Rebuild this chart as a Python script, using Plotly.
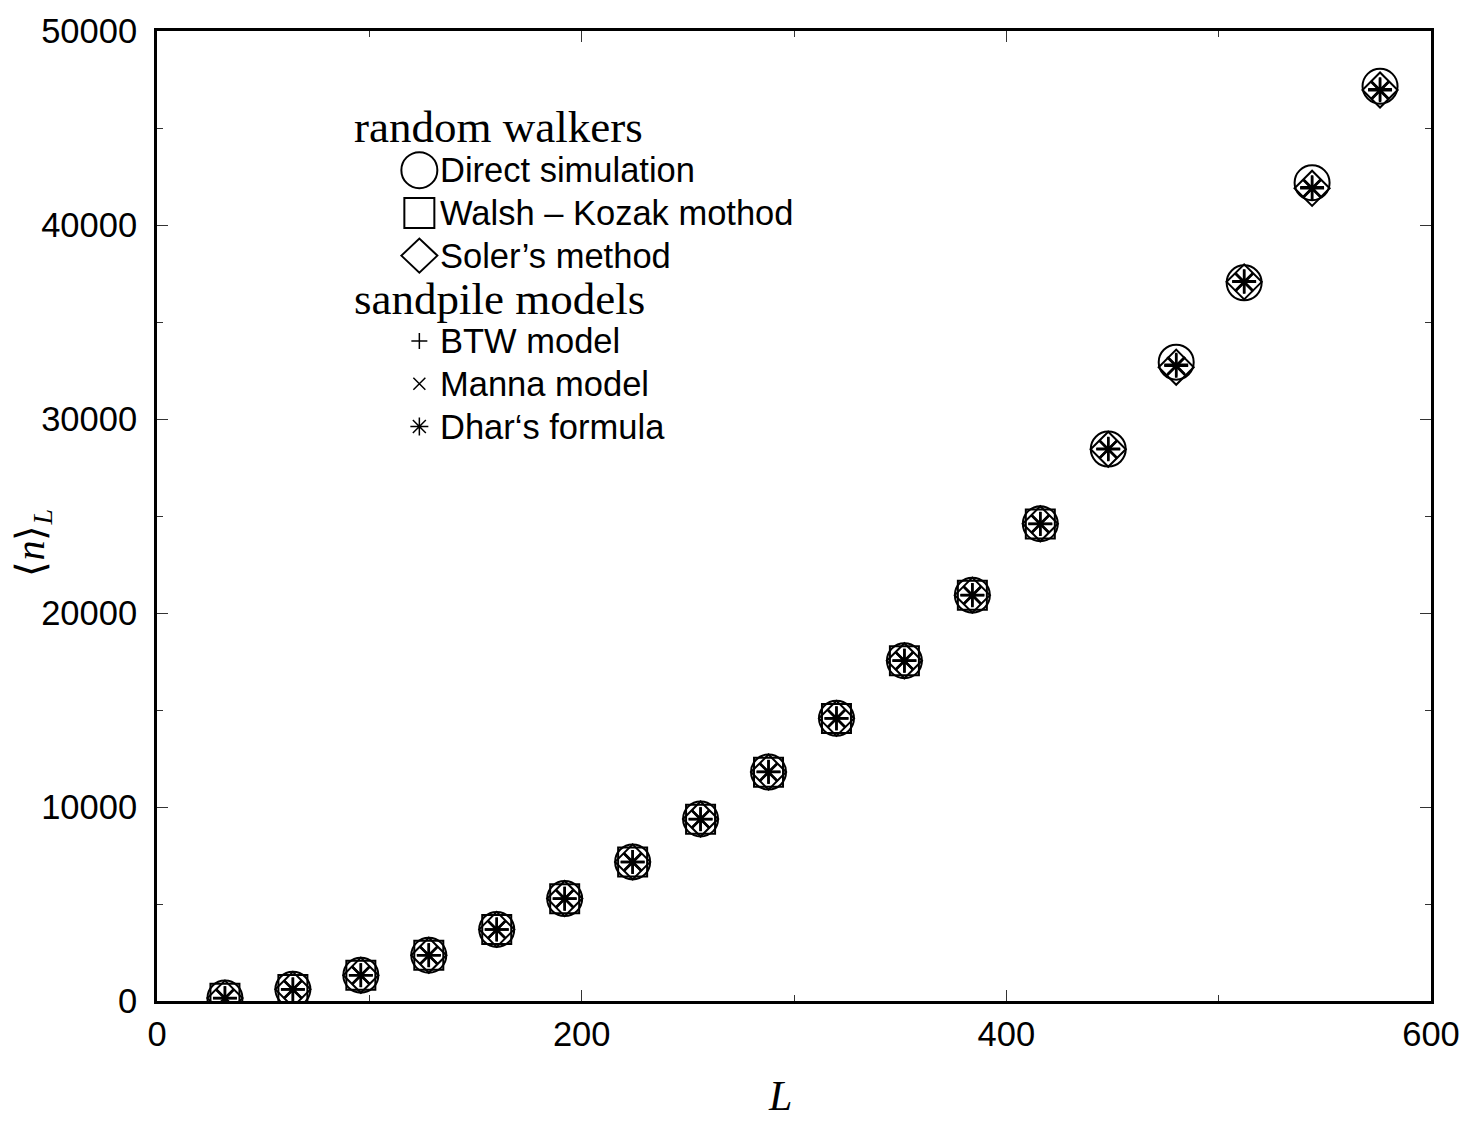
import plotly.graph_objects as go

# ---- data ----
L = [32, 64, 96, 128, 160, 192, 224, 256, 288, 320, 352, 384, 416, 448, 480, 512, 544, 576]
L_walsh = [32, 64, 96, 128, 160, 192, 224, 256, 288, 320, 352, 384, 416]

direct = [150, 600, 1330, 2360, 3690, 5280, 7170, 9380, 11800, 14570, 17540, 20920, 24600, 28450, 32930, 37020, 42180, 47150]
walsh = [145, 595, 1325, 2355, 3685, 5275, 7165, 9375, 11795, 14565, 17535, 20915, 24590]
soler = [150, 600, 1330, 2360, 3690, 5280, 7170, 9380, 11800, 14570, 17540, 20920, 24600, 28440, 32670, 37070, 41890, 46960]
btw = [150, 600, 1330, 2360, 3690, 5280, 7170, 9380, 11820, 14580, 17550, 20930, 24600, 28470, 32800, 37100, 41950, 47000]
manna = [140, 590, 1320, 2350, 3680, 5270, 7160, 9370, 11790, 14560, 17530, 20910, 24580, 28430, 32720, 37040, 41870, 46930]
dhar = [145, 595, 1325, 2355, 3685, 5275, 7165, 9375, 11800, 14565, 17535, 20915, 24590, 28440, 32750, 37070, 41900, 46950]

x_ticks = [0, 200, 400, 600]
y_ticks = [0, 10000, 20000, 30000, 40000, 50000]

SANS = "Liberation Sans, Arial, sans-serif"
SERIF = "Liberation Serif, Times New Roman, serif"

fig = go.Figure()


def add(xs, ys, symbol, size, name, width=2):
    fig.add_trace(go.Scatter(
        x=xs, y=ys, mode="markers", name=name, showlegend=False,
        marker=dict(symbol=symbol, size=size, color="black",
                    line=dict(color="black", width=width)),
    ))


add(L, direct, "circle-open", 35, "Direct simulation")
add(L_walsh, walsh, "square-open", 29, "Walsh - Kozak mothod")
add(L, soler, "diamond-open", 27, "Soler's method")
add(L, btw, "cross-thin-open", 17, "BTW model", 2.5)
add(L, manna, "x-thin-open", 18, "Manna model", 2.5)
add(L, dhar, "asterisk-open", 20, "Dhar's formula", 2.5)

# ---- custom legend (icons as pixel-sized shapes, text as annotations) ----
# target plot-area position in the picture (pixels)
PLOT_L, PLOT_R, PLOT_T, PLOT_B = 155, 1437, 25, 1001


def px(xp):
    return (xp - PLOT_L) / (PLOT_R - PLOT_L)


def py(yp):
    return (PLOT_B - yp) / (PLOT_B - PLOT_T)


icon_x = px(419)
rows = [122, 165, 208, 251, 295, 337, 380, 423]
shapes = []
line_style = dict(color="black", width=2)


def pshape(**kw):
    d = dict(xref="paper", yref="paper", xsizemode="pixel", ysizemode="pixel",
             xanchor=icon_x, line=line_style)
    d.update(kw)
    shapes.append(d)


# circle
pshape(type="circle", yanchor=py(rows[1]), x0=-18, x1=18, y0=-18, y1=18)
# square
pshape(type="rect", yanchor=py(rows[2]), x0=-15, x1=15, y0=-15, y1=15)
# diamond
pshape(type="path", yanchor=py(rows[3]), path="M -18,0 L 0,17 L 18,0 L 0,-17 Z")
# plus
pshape(type="path", yanchor=py(rows[5]), path="M -8,0 L 8,0 M 0,-8 L 0,8",
       line=dict(color="black", width=1.5))
# cross
pshape(type="path", yanchor=py(rows[6]), path="M -6,-6 L 6,6 M -6,6 L 6,-6",
       line=dict(color="black", width=1.5))
# asterisk
pshape(type="path", yanchor=py(rows[7]),
       path="M -9,0 L 9,0 M 0,-9 L 0,9 M -6.5,-6.5 L 6.5,6.5 M -6.5,6.5 L 6.5,-6.5",
       line=dict(color="black", width=1.5))

annotations = []


def ann(text, xp, yp, font, xanchor="left", **kw):
    d = dict(text=text, xref="paper", yref="paper", x=px(xp), y=py(yp),
             xanchor=xanchor, yanchor="middle", showarrow=False, font=font)
    d.update(kw)
    annotations.append(d)


serif_font = dict(family=SERIF, size=45, color="black")
sans_font = dict(family=SANS, size=34.5, color="black")

ann("random walkers", 351, rows[0], serif_font)
ann("Direct simulation", 438, rows[1], sans_font)
ann("Walsh \u2013 Kozak mothod", 438, rows[2], sans_font)
ann("Soler\u2019s method", 438, rows[3], sans_font)
ann("sandpile models", 351, rows[4], serif_font)
ann("BTW model", 438, rows[5], sans_font)
ann("Manna model", 438, rows[6], sans_font)
ann("Dhar\u2018s formula", 438, rows[7], sans_font)

# axis titles
ann("<i>L</i>", 782, 1097, dict(family=SERIF, size=42, color="black"), xanchor="center")
ann("\u27e8<i>n</i>\u27e9<sub><i>L</i></sub>", 30, 540,
    dict(family=SERIF, size=40, color="black"), xanchor="center", textangle=-90)

axis_common = dict(
    showline=True, linecolor="black", linewidth=3, mirror="allticks",
    ticks="inside", ticklen=11, tickwidth=1, tickcolor="#333",
    showgrid=False, zeroline=False,
    tickfont=dict(family=SANS, size=34.5, color="black"),
)

fig.update_layout(
    width=1472, height=1122,
    margin=dict(l=157, r=30, t=21, b=121),
    paper_bgcolor="white", plot_bgcolor="white",
    showlegend=False,
    shapes=shapes, annotations=annotations,
    xaxis=dict(range=[0, 600], tickvals=x_ticks, ticktext=[str(v) for v in x_ticks],
               minor=dict(dtick=100, ticks="inside", ticklen=6, tickwidth=1, tickcolor="#333"),
               ticklabelstandoff=1, **axis_common),
    yaxis=dict(range=[0, 50000], tickvals=y_ticks, ticktext=[str(v) for v in y_ticks],
               minor=dict(dtick=5000, ticks="inside", ticklen=6, tickwidth=1, tickcolor="#333"),
               ticklabelstandoff=10, **axis_common),
)

fig.write_html(
    "out.html",
    config={"displayModeBar": False},
    post_script="document.body.style.margin='0';document.body.style.overflow='hidden';",
)
